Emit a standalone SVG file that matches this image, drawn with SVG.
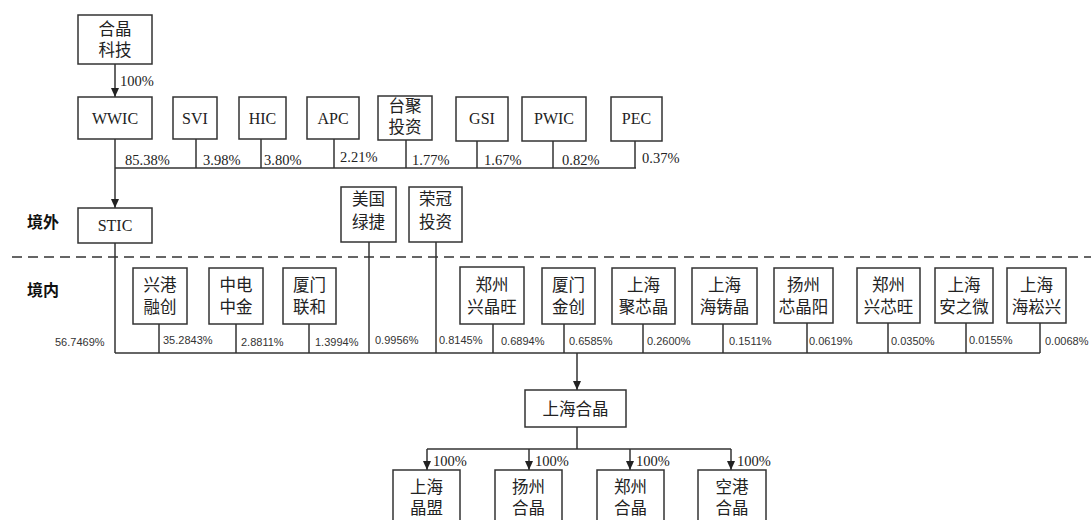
<svg xmlns="http://www.w3.org/2000/svg" width="1091" height="520" viewBox="0 0 1091 520">
<style>
.bx{fill:#fff;stroke:#333;stroke-width:1.5}
.ln{fill:none;stroke:#333;stroke-width:1.5}
.cn{font-family:"Noto Sans CJK SC","Noto Sans CJK JP",sans-serif;font-size:16.5px;fill:#222;text-anchor:middle}
.en{font-family:"Liberation Serif","Times New Roman",serif;font-size:16px;fill:#222;text-anchor:middle}
.pt{font-family:"Liberation Serif","Times New Roman",serif;font-size:14.5px;fill:#222}
.pm{font-family:"Liberation Sans",Arial,sans-serif;font-size:11px;fill:#333}
.rg{font-family:"Noto Sans CJK SC",sans-serif;font-size:16px;font-weight:bold;fill:#111}
</style>
<defs>
<marker id="ar" markerWidth="9" markerHeight="8" refX="9" refY="4" orient="auto" markerUnits="userSpaceOnUse" viewBox="0 0 9 8">
<path d="M0,0 L9,4 L0,8 z" fill="#222"/>
</marker>
</defs>
<rect width="1091" height="520" fill="#fff"/>
<text class="rg" x="27" y="228">境外</text>
<text class="rg" x="27" y="296">境内</text>
<g id="connectors">
<line class="ln" x1="115" y1="64" x2="115" y2="97" marker-end="url(#ar)"/>
<line class="ln" x1="115" y1="139" x2="115" y2="208" marker-end="url(#ar)"/>
<line class="ln" x1="115" y1="168" x2="636" y2="168"/>
<line class="ln" x1="196" y1="139" x2="196" y2="168"/>
<line class="ln" x1="261" y1="139" x2="261" y2="168"/>
<line class="ln" x1="334" y1="139" x2="334" y2="168"/>
<line class="ln" x1="406" y1="140" x2="406" y2="168"/>
<line class="ln" x1="477" y1="141" x2="477" y2="168"/>
<line class="ln" x1="553" y1="141" x2="553" y2="168"/>
<line class="ln" x1="635" y1="141" x2="635" y2="168"/>
<line x1="12" y1="257" x2="1091" y2="257" stroke="#333" stroke-width="1.5" stroke-dasharray="10,6"/>
<line class="ln" x1="115" y1="243" x2="115" y2="353"/>
<line class="ln" x1="115" y1="353" x2="1040" y2="353" stroke-width="2"/>
<line class="ln" x1="159" y1="324" x2="159" y2="353"/>
<line class="ln" x1="236" y1="324" x2="236" y2="353"/>
<line class="ln" x1="309" y1="324" x2="309" y2="353"/>
<line class="ln" x1="369" y1="242" x2="369" y2="353"/>
<line class="ln" x1="436" y1="242" x2="436" y2="353"/>
<line class="ln" x1="493" y1="324" x2="493" y2="353"/>
<line class="ln" x1="564" y1="324" x2="564" y2="353"/>
<line class="ln" x1="643" y1="324" x2="643" y2="353"/>
<line class="ln" x1="723" y1="324" x2="723" y2="353"/>
<line class="ln" x1="807" y1="323" x2="807" y2="353"/>
<line class="ln" x1="888" y1="323" x2="888" y2="353"/>
<line class="ln" x1="966" y1="323" x2="966" y2="353"/>
<line class="ln" x1="1040" y1="323" x2="1040" y2="353"/>
<line class="ln" x1="577" y1="353" x2="577" y2="390" marker-end="url(#ar)"/>
<line class="ln" x1="577" y1="427" x2="577" y2="449" stroke-width="2"/>
<line class="ln" x1="427" y1="449" x2="731" y2="449"/>
<line class="ln" x1="427" y1="449" x2="427" y2="470" marker-end="url(#ar)"/>
<line class="ln" x1="529" y1="449" x2="529" y2="470" marker-end="url(#ar)"/>
<line class="ln" x1="630" y1="449" x2="630" y2="470" marker-end="url(#ar)"/>
<line class="ln" x1="731" y1="449" x2="731" y2="470" marker-end="url(#ar)"/>
<text class="pt" x="120" y="86">100%</text>
<text class="pt" x="125" y="165">85.38%</text>
<text class="pt" x="203" y="165">3.98%</text>
<text class="pt" x="264" y="165">3.80%</text>
<text class="pt" x="340" y="162">2.21%</text>
<text class="pt" x="412" y="165">1.77%</text>
<text class="pt" x="484" y="165">1.67%</text>
<text class="pt" x="562" y="165">0.82%</text>
<text class="pt" x="642" y="163">0.37%</text>
<text class="pm" x="55" y="346">56.7469%</text>
<text class="pm" x="163" y="344">35.2843%</text>
<text class="pm" x="241" y="346">2.8811%</text>
<text class="pm" x="315" y="346">1.3994%</text>
<text class="pm" x="375" y="344">0.9956%</text>
<text class="pm" x="439" y="344">0.8145%</text>
<text class="pm" x="501" y="345">0.6894%</text>
<text class="pm" x="569" y="345">0.6585%</text>
<text class="pm" x="647" y="345">0.2600%</text>
<text class="pm" x="729" y="345">0.1511%</text>
<text class="pm" x="809" y="345">0.0619%</text>
<text class="pm" x="891" y="345">0.0350%</text>
<text class="pm" x="969" y="344">0.0155%</text>
<text class="pm" x="1045" y="345">0.0068%</text>
<text class="pt" x="433" y="466">100%</text>
<text class="pt" x="535" y="466">100%</text>
<text class="pt" x="636" y="466">100%</text>
<text class="pt" x="737" y="466">100%</text>
</g>
<g id="n-hejing"><rect class="bx" x="78" y="15" width="74" height="49"/><text class="cn" x="115" y="35">合晶</text><text class="cn" x="115" y="56">科技</text></g>
<g id="n-wwic"><rect class="bx" x="78" y="97" width="74" height="42"/><text class="en" x="115" y="124">WWIC</text></g>
<g id="n-svi"><rect class="bx" x="173" y="97" width="44" height="42"/><text class="en" x="195" y="124">SVI</text></g>
<g id="n-hic"><rect class="bx" x="239" y="97" width="47" height="42"/><text class="en" x="262.5" y="124">HIC</text></g>
<g id="n-apc"><rect class="bx" x="307" y="97" width="52" height="42"/><text class="en" x="333" y="124">APC</text></g>
<g id="n-taiju"><rect class="bx" x="378" y="96" width="54" height="44"/><text class="cn" x="405" y="112">台聚</text><text class="cn" x="405" y="133">投资</text></g>
<g id="n-gsi"><rect class="bx" x="456" y="97" width="52" height="44"/><text class="en" x="482" y="124">GSI</text></g>
<g id="n-pwic"><rect class="bx" x="522" y="97" width="64" height="44"/><text class="en" x="554" y="124">PWIC</text></g>
<g id="n-pec"><rect class="bx" x="611" y="97" width="51" height="44"/><text class="en" x="636.5" y="124">PEC</text></g>
<g id="n-stic"><rect class="bx" x="78" y="208" width="74" height="35"/><text class="en" x="115" y="231">STIC</text></g>
<g id="n-lvjie"><rect class="bx" x="341" y="187" width="55" height="55"/><text class="cn" x="368.5" y="205">美国</text><text class="cn" x="368.5" y="228">绿捷</text></g>
<g id="n-rongguan"><rect class="bx" x="409" y="187" width="53" height="55"/><text class="cn" x="435.5" y="205">荣冠</text><text class="cn" x="435.5" y="228">投资</text></g>
<g id="n-xgrc"><rect class="bx" x="133" y="268" width="54" height="56"/><text class="cn" x="160" y="291">兴港</text><text class="cn" x="160" y="313">融创</text></g>
<g id="n-zdzj"><rect class="bx" x="209" y="268" width="54" height="56"/><text class="cn" x="236" y="291">中电</text><text class="cn" x="236" y="313">中金</text></g>
<g id="n-xmlh"><rect class="bx" x="283" y="268" width="53" height="56"/><text class="cn" x="309.5" y="291">厦门</text><text class="cn" x="309.5" y="313">联和</text></g>
<g id="n-zzxjw"><rect class="bx" x="460" y="267" width="64" height="57"/><text class="cn" x="492" y="291">郑州</text><text class="cn" x="492" y="313">兴晶旺</text></g>
<g id="n-xmjc"><rect class="bx" x="542" y="268" width="53" height="56"/><text class="cn" x="568.5" y="291">厦门</text><text class="cn" x="568.5" y="313">金创</text></g>
<g id="n-shjxj"><rect class="bx" x="612" y="268" width="63" height="56"/><text class="cn" x="643.5" y="291">上海</text><text class="cn" x="643.5" y="313">聚芯晶</text></g>
<g id="n-shhzj"><rect class="bx" x="692" y="268" width="65" height="56"/><text class="cn" x="724.5" y="291">上海</text><text class="cn" x="724.5" y="313">海铸晶</text></g>
<g id="n-yzxjy"><rect class="bx" x="774" y="268" width="59" height="55"/><text class="cn" x="803.5" y="291">扬州</text><text class="cn" x="803.5" y="313">芯晶阳</text></g>
<g id="n-zzxxw"><rect class="bx" x="857" y="268" width="63" height="55"/><text class="cn" x="888.5" y="291">郑州</text><text class="cn" x="888.5" y="313">兴芯旺</text></g>
<g id="n-shazw"><rect class="bx" x="935" y="268" width="58" height="55"/><text class="cn" x="964" y="291">上海</text><text class="cn" x="964" y="313">安之微</text></g>
<g id="n-shhsx"><rect class="bx" x="1007" y="268" width="59" height="55"/><text class="cn" x="1036.5" y="291">上海</text><text class="cn" x="1036.5" y="313">海崧兴</text></g>
<g id="n-shhj"><rect class="bx" x="525" y="390" width="101" height="37"/><text class="cn" x="575.5" y="415">上海合晶</text></g>
<g id="n-shjm"><rect class="bx" x="393" y="470" width="67" height="60"/><text class="cn" x="426.5" y="493">上海</text><text class="cn" x="426.5" y="514">晶盟</text></g>
<g id="n-yzhj"><rect class="bx" x="495" y="470" width="67" height="60"/><text class="cn" x="528.5" y="493">扬州</text><text class="cn" x="528.5" y="514">合晶</text></g>
<g id="n-zzhj"><rect class="bx" x="597" y="470" width="67" height="60"/><text class="cn" x="630.5" y="493">郑州</text><text class="cn" x="630.5" y="514">合晶</text></g>
<g id="n-kghj"><rect class="bx" x="698" y="470" width="68" height="60"/><text class="cn" x="732" y="493">空港</text><text class="cn" x="732" y="514">合晶</text></g>
</svg>
